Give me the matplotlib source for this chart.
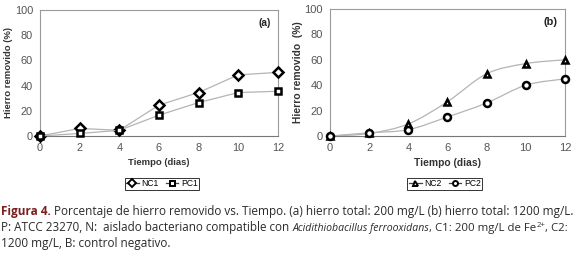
import matplotlib
matplotlib.use("Agg")
import matplotlib.pyplot as plt
from matplotlib.lines import Line2D
from matplotlib.path import Path
from matplotlib.patches import PathPatch

# datos
dias = [0, 2, 4, 6, 8, 10, 12]
nc1 = [0, 6, 4.5, 24.5, 34.5, 48.5, 50.5]
pc1 = [0, 2, 4.5, 16.5, 26.5, 34.5, 35.5]
nc2 = [0, 2, 9.5, 27, 49, 57, 60]
pc2 = [0, 2.5, 5, 15, 26, 40, 45]

y_ticks = [0, 20, 40, 60, 80, 100]
x_ticks = [0, 2, 4, 6, 8, 10, 12]

LINE = "#b4b4b4"
FRAME = "#9a9a9a"
TICKC = "#555555"
ARIAL = ["Liberation Sans"]


def smooth_path(x, y):
    # curva suavizada tipo Excel (bezier por tramos)
    n = len(x)
    verts = [(x[0], y[0])]
    codes = [Path.MOVETO]
    for i in range(n - 1):
        a = i - 1 if i > 0 else i
        b = i + 2 if i + 2 < n else i + 1
        c1 = (x[i] + (x[i + 1] - x[a]) / 6, y[i] + (y[i + 1] - y[a]) / 6)
        c2 = (x[i + 1] - (x[b] - x[i]) / 6, y[i + 1] - (y[b] - y[i]) / 6)
        verts += [c1, c2, (x[i + 1], y[i + 1])]
        codes += [Path.CURVE4] * 3
    return Path(verts, codes)


def style_axes(ax, lab_size, tick_size, label, ylab):
    ax.set_xlim(0, 12)
    ax.set_ylim(0, 100)
    ax.set_xticks(x_ticks)
    ax.set_yticks(y_ticks)
    for s in ax.spines.values():
        s.set_color(FRAME)
        s.set_linewidth(0.8)
    ax.spines["bottom"].set_color("#777777")
    ax.tick_params(length=0, pad=5, colors=TICKC, labelsize=tick_size)
    for t in ax.get_xticklabels() + ax.get_yticklabels():
        t.set_family(ARIAL)
    ax.set_xlabel("Tiempo (dias)", family=ARIAL, fontsize=lab_size,
                  fontweight="bold", color="#333333", labelpad=3.5)
    ax.set_ylabel(ylab, family=ARIAL, fontsize=lab_size, fontweight="bold",
                  color="#333333", labelpad=1)
    ax.text(0.97, 0.9, label, transform=ax.transAxes, ha="right", va="center",
            family=ARIAL, fontsize=lab_size + 0.5, fontweight="bold",
            color="#222222")


mk = dict(markerfacecolor="white", markeredgecolor="black",
          markeredgewidth=1.8, markersize=5)

fig = plt.figure(figsize=(5.8, 2.54), dpi=100)
ax1 = fig.add_axes([0.069, 0.4646, 0.41, 0.496])
ax2 = fig.add_axes([0.569, 0.4646, 0.405, 0.50])

# (a) lineas rectas
ax1.plot(dias, nc1, color=LINE, lw=0.9, marker="D", ls="-", clip_on=False,
         zorder=3, **mk)
ax1.plot(dias, pc1, color=LINE, lw=0.9, marker="s", ls="-", clip_on=False,
         zorder=3, **mk)
style_axes(ax1, 6.8, 7.9, "(a)", "Hierro removido (%)")

# (b) lineas suavizadas
for serie, m in ((nc2, "^"), (pc2, "o")):
    ax2.add_patch(PathPatch(smooth_path(dias, serie), fill=False,
                            edgecolor=LINE, lw=0.9, zorder=2))
    ax2.plot(dias, serie, ls="none", marker=m, clip_on=False, zorder=3, **mk)
style_axes(ax2, 7.4, 8, "(b)", "Hierro removido  (%)")


def proxies(markers, labels):
    return [Line2D([], [], color="#444444", lw=0.9, marker=m,
                   markerfacecolor="white", markeredgecolor="black",
                   markeredgewidth=1.4, markersize=3.6, label=l)
            for m, l in zip(markers, labels)]


leg_kw = dict(loc="center", ncol=2, handlelength=1.5, handletextpad=0.3,
              columnspacing=0.8, borderpad=0.15, frameon=True, fancybox=False,
              edgecolor="black", borderaxespad=0)
lg1 = fig.legend(handles=proxies(["D", "s"], ["NC1", "PC1"]),
                 bbox_to_anchor=(0.279, 0.276),
                 prop={"family": ARIAL, "size": 6.2}, **leg_kw)
lg2 = fig.legend(handles=proxies(["^", "o"], ["NC2", "PC2"]),
                 bbox_to_anchor=(0.767, 0.276),
                 prop={"family": ARIAL, "size": 6.2}, **leg_kw)
for lg in (lg1, lg2):
    lg.get_frame().set_linewidth(0.7)

# pie de figura
cap = fig.add_axes([0, 0, 1, 1])
cap.axis("off")
CAPF = ["Open Sans", "DejaVu Sans"]
CS = 8.5
TXT = "#2a2a2a"
SP = 2.2  # ancho de un espacio, en puntos


def seg(prev, text, y, dx=0.0, dy=0.0, **kw):
    base = dict(fontsize=CS, family=CAPF, color=TXT, va="baseline")
    base.update(kw)
    if prev is None:
        return cap.text(1, y, text, transform=None, **base)
    return cap.annotate(text, xy=(1, y), xycoords=(prev, "figure pixels"),
                        xytext=(dx, dy), textcoords="offset points", **base)


t = seg(None, "Figura 4.", 39, fontweight="bold", color="#7a1e1e")
seg(t, "Porcentaje de hierro removido vs. Tiempo. (a) hierro total: 200 mg/L "
    "(b) hierro total: 1200 mg/L.", 39, dx=SP)

t = seg(None, "P: ATCC 23270, N:  aislado bacteriano compatible con", 23,
        fontsize=8.35)
t = seg(t, "Acidithiobacillus ferrooxidans", 23, dx=SP, fontstyle="italic",
        fontsize=7.6)
t = seg(t, ", C1: 200 mg/L de Fe", 23, fontsize=8.2)
t2 = seg(t, "2+", 23, dx=0.1, dy=3.2, fontsize=5.6)
seg(t2, ", C2:", 23, fontsize=8.2)

seg(None, "1200 mg/L, B: control negativo.", 7)

fig.savefig("out.png", dpi=100)
